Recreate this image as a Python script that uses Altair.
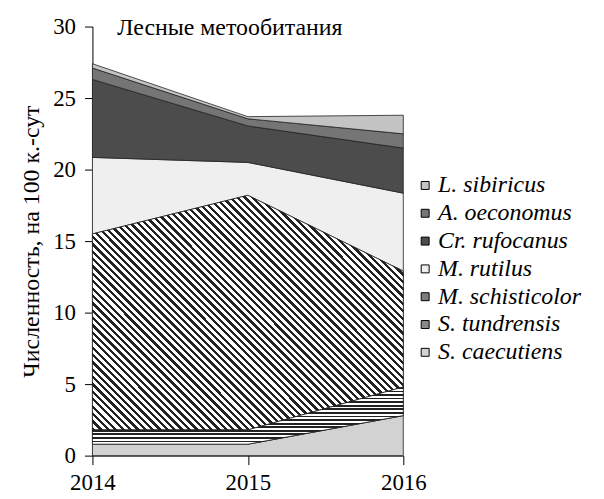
import altair as alt
import pandas as pd

years = [2014, 2015, 2016]
species = ["S. caecutiens", "S. tundrensis", "M. schisticolor", "M. rutilus",
           "Cr. rufocanus", "A. oeconomus", "L. sibiricus"]
caecutiens = [0.8, 0.8, 2.8]
tundrensis = [1.0, 1.0, 2.0]
schisticolor = [13.7, 16.4, 8.1]
rutilus = [5.35, 2.3, 5.45]
rufocanus = [5.45, 2.55, 3.15]
oeconomus = [0.8, 0.5, 1.0]
sibiricus = [0.3, 0.15, 1.3]
series = [caecutiens, tundrensis, schisticolor, rutilus, rufocanus, oeconomus, sibiricus]
y_ticks = [0, 5, 10, 15, 20, 25, 30]
panel_title = ["Лесные метообитания"]

rows = []
for order, (name, vals) in enumerate(zip(species, series)):
    for yr, v in zip(years, vals):
        rows.append({"year": yr, "species": name, "value": v, "order": order})
df = pd.DataFrame(rows)

legend_order = species[::-1]
greys = ["#c4c4c4", "#757575", "#4c4c4c", "#efefef", "#7c7c7c", "#8a8a8a", "#d2d2d2"]

FONT = "Liberation Serif, Times New Roman, serif"


def stripes(n, x1, y1, x2, y2, dark=0.45):
    stops = []
    for i in range(n):
        a = i / n
        b = (i + dark) / n
        c = (i + 1) / n
        stops += [alt.GradientStop(offset=a, color="#222222"),
                  alt.GradientStop(offset=b, color="#222222"),
                  alt.GradientStop(offset=b, color="#ffffff"),
                  alt.GradientStop(offset=c, color="#ffffff")]
    return alt.LinearGradient(gradient="linear", stops=stops, x1=x1, y1=y1, x2=x2, y2=y2)


# diagonal stripes for M. schisticolor (bbox approx 313 x 236 px)
w, h = 313.0, 236.0
b = -h / w
k = (1 - b) / (1 + b * b)
diag = stripes(74, 0, 1, k, 1 + k * b)
horiz = stripes(16, 0, 0, 0, 1, dark=0.5)

base = alt.Chart(df).transform_stack(
    stack="value", groupby=["year"], as_=["y0", "y1"],
    sort=[alt.SortField("order", order="ascending")]
)

x_enc = alt.X("year:O", scale=alt.Scale(type="point", padding=0),
              axis=alt.Axis(title=None, grid=False, labelAngle=0,
                            labelFont=FONT, labelFontSize=23, labelColor="black",
                            tickColor="black", domainColor="black", tickSize=9,
                            labelPadding=7, labelFlush=False, labelOverlap=False))
y_enc = alt.Y("y0:Q", scale=alt.Scale(domain=[0, 30], nice=False),
              axis=alt.Axis(values=y_ticks, grid=False,
                            title="Численность, на 100 к.-сут",
                            titleFont=FONT, titleFontSize=24, titleFontWeight="normal",
                            titleColor="black", titlePadding=9,
                            labelFont=FONT, labelFontSize=23, labelColor="black",
                            tickColor="black", domainColor="black", tickSize=8,
                            labelPadding=9))

areas = base.mark_area(stroke="#222222", strokeWidth=0.8).encode(
    x=x_enc, y=y_enc, y2="y1:Q",
    color=alt.Color("species:N",
                    scale=alt.Scale(domain=legend_order, range=greys),
                    legend=alt.Legend(title=None, orient="none", legendX=323, legendY=148,
                                      symbolType="square", symbolSize=64,
                                      symbolStrokeColor="black", symbolStrokeWidth=1,
                                      labelFont=FONT, labelFontSize=24,
                                      labelFontStyle="italic", labelColor="black",
                                      labelOffset=1, rowPadding=4, padding=0,
                                      labelLimit=300)),
    order=alt.Order("order:Q"),
)

sch = base.transform_filter(alt.datum.species == "M. schisticolor").mark_area(
    fill=diag, stroke="#222222", strokeWidth=0.8
).encode(x=alt.X("year:O"), y="y0:Q", y2="y1:Q")

tun = base.transform_filter(alt.datum.species == "S. tundrensis").mark_area(
    fill=horiz, stroke="#222222", strokeWidth=0.8
).encode(x=alt.X("year:O"), y="y0:Q", y2="y1:Q")

title_layer = alt.Chart(pd.DataFrame({"t": panel_title})).mark_text(
    align="left", baseline="middle", font=FONT, fontSize=24, color="black"
).encode(text="t:N", x=alt.value(25), y=alt.value(2))

chart = alt.layer(areas, sch, tun, title_layer).properties(
    width=313, height=432,
    padding={"left": 85, "top": 17, "right": 194, "bottom": 42},
    autosize=alt.AutoSizeParams(type="none"),
).configure_view(strokeWidth=0)

chart.save("out.html", embed_options={"renderer": "svg", "actions": False})
